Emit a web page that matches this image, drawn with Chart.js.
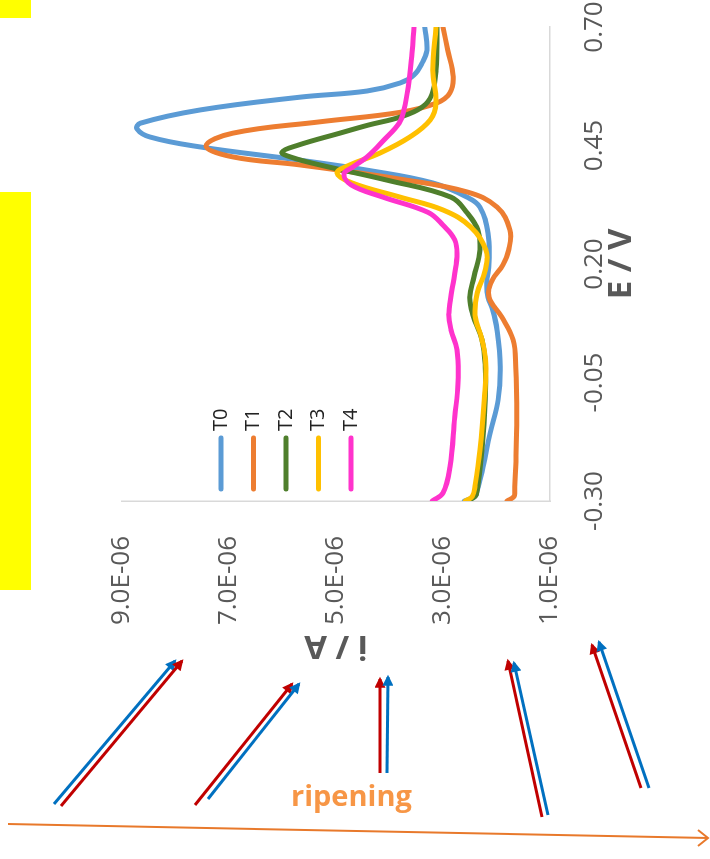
<!DOCTYPE html>
<html>
<head>
<meta charset="utf-8">
<script src="https://cdn.jsdelivr.net/npm/chart.js@4"></script>
<style>
  html, body { margin: 0; padding: 0; background: #fff; }
  #page { position: relative; width: 710px; height: 859px; overflow: hidden; background: #fff; }
  /* the voltammogram is drawn upright, then turned a quarter turn counter-clockwise */
  #plot { position: absolute; left: 0; top: 0; width: 859px; height: 710px;
          transform-origin: 0 0; transform: translate(0px, 859px) rotate(-90deg); }
  #marks { position: absolute; left: 0; top: 0; pointer-events: none; }
</style>
</head>
<body>
<div id="page">
  <div id="plot"><canvas id="cv" width="859" height="710"></canvas></div>
  <svg id="marks" width="710" height="859" xmlns="http://www.w3.org/2000/svg">
    <defs>
      <marker id="headRed" viewBox="0 0 10 10" refX="8" refY="5" markerWidth="13" markerHeight="11"
              markerUnits="userSpaceOnUse" orient="auto"><path d="M0,0 L10,5 L0,10 z" fill="#C00000"/></marker>
      <marker id="headBlue" viewBox="0 0 10 10" refX="8" refY="5" markerWidth="13" markerHeight="11"
              markerUnits="userSpaceOnUse" orient="auto"><path d="M0,0 L10,5 L0,10 z" fill="#0070C0"/></marker>
    </defs>
    <rect x="0" y="0" width="31" height="18" fill="#FFFF00"/>
    <rect x="0" y="192" width="31" height="398" fill="#FFFF00"/>
    <g fill="none" stroke-width="3">
      <line x1="54" y1="804" x2="175" y2="661" stroke="#0070C0" marker-end="url(#headBlue)"/>
      <line x1="61" y1="806" x2="182" y2="661" stroke="#C00000" marker-end="url(#headRed)"/>
      <line x1="195" y1="805" x2="292" y2="684" stroke="#C00000" marker-end="url(#headRed)"/>
      <line x1="208" y1="799" x2="299" y2="684" stroke="#0070C0" marker-end="url(#headBlue)"/>
      <line x1="380" y1="773" x2="380" y2="679" stroke="#C00000" marker-end="url(#headRed)"/>
      <line x1="387" y1="773" x2="388" y2="677" stroke="#0070C0" marker-end="url(#headBlue)"/>
      <line x1="542" y1="817" x2="508" y2="661" stroke="#C00000" marker-end="url(#headRed)"/>
      <line x1="548" y1="815" x2="514" y2="663" stroke="#0070C0" marker-end="url(#headBlue)"/>
      <line x1="641" y1="788" x2="592" y2="645" stroke="#C00000" marker-end="url(#headRed)"/>
      <line x1="649" y1="788" x2="599" y2="642" stroke="#0070C0" marker-end="url(#headBlue)"/>
    </g>
    <line x1="8" y1="824" x2="708" y2="838" stroke="#E8792B" stroke-width="2"/>
    <polyline points="698,830 708,838 698,846" fill="none" stroke="#E8792B" stroke-width="2"/>
    <text x="291" y="806" font-family="Open Sans" font-weight="bold" font-size="29" fill="#F79646">ripening</text>
  </svg>
</div>
<script>
// Differential pulse voltammograms, current (A) against potential (V)
const seriesNames = ['T0', 'T1', 'T2', 'T3', 'T4'];
const seriesColors = ['#5B9BD5', '#ED7D31', '#4F7F2C', '#FFC000', '#FF33CC'];

const potentialTicks = [-0.30, -0.05, 0.20, 0.45, 0.70];
const currentTicks = [1.0e-6, 3.0e-6, 5.0e-6, 7.0e-6, 9.0e-6];

const potentialT0 = [-0.300, -0.290, -0.277, -0.228, -0.157, -0.087, -0.017, 0.061, 0.103, 0.130, 0.160, 0.202, 0.265, 0.320, 0.341, 0.371, 0.398, 0.419, 0.447, 0.468, 0.485, 0.497, 0.525, 0.552, 0.565, 0.582, 0.599, 0.624, 0.651, 0.700];
const currentT0 = [2.60e-6, 2.40e-6, 2.36e-6, 2.25e-6, 2.12e-6, 1.97e-6, 1.93e-6, 1.99e-6, 2.07e-6, 2.16e-6, 2.18e-6, 2.14e-6, 2.16e-6, 2.31e-6, 2.55e-6, 3.19e-6, 4.42e-6, 5.67e-6, 7.54e-6, 8.48e-6, 8.72e-6, 8.66e-6, 7.54e-6, 5.67e-6, 4.42e-6, 3.80e-6, 3.54e-6, 3.39e-6, 3.30e-6, 3.34e-6];

const potentialT1 = [-0.300, -0.290, -0.277, -0.228, -0.123, -0.017, 0.040, 0.088, 0.130, 0.166, 0.198, 0.230, 0.272, 0.320, 0.352, 0.379, 0.409, 0.426, 0.449, 0.476, 0.500, 0.520, 0.540, 0.561, 0.595, 0.651, 0.700];
const currentT1 = [1.80e-6, 1.67e-6, 1.66e-6, 1.64e-6, 1.62e-6, 1.64e-6, 1.69e-6, 1.90e-6, 2.14e-6, 2.08e-6, 1.88e-6, 1.77e-6, 1.75e-6, 1.99e-6, 2.55e-6, 3.80e-6, 5.67e-6, 6.93e-6, 7.43e-6, 6.93e-6, 5.30e-6, 3.80e-6, 3.11e-6, 2.87e-6, 2.81e-6, 2.91e-6, 3.00e-6];

const potentialT2 = [-0.300, -0.290, -0.277, -0.192, -0.087, -0.017, 0.040, 0.092, 0.130, 0.173, 0.230, 0.272, 0.308, 0.341, 0.377, 0.409, 0.424, 0.436, 0.451, 0.476, 0.493, 0.510, 0.531, 0.557, 0.609, 0.700];
const currentT2 = [2.55e-6, 2.40e-6, 2.36e-6, 2.27e-6, 2.21e-6, 2.21e-6, 2.27e-6, 2.44e-6, 2.50e-6, 2.42e-6, 2.31e-6, 2.35e-6, 2.55e-6, 2.85e-6, 4.05e-6, 5.30e-6, 5.80e-6, 6.01e-6, 5.70e-6, 4.93e-6, 4.40e-6, 3.80e-6, 3.39e-6, 3.21e-6, 3.13e-6, 3.11e-6];

const potentialT3 = [-0.300, -0.290, -0.266, -0.192, -0.087, -0.009, 0.040, 0.092, 0.139, 0.187, 0.230, 0.278, 0.314, 0.341, 0.371, 0.392, 0.409, 0.434, 0.468, 0.504, 0.540, 0.609, 0.700];
const currentT3 = [2.58e-6, 2.45e-6, 2.40e-6, 2.31e-6, 2.23e-6, 2.20e-6, 2.27e-6, 2.40e-6, 2.36e-6, 2.21e-6, 2.20e-6, 2.48e-6, 3.00e-6, 3.80e-6, 4.70e-6, 4.98e-6, 4.74e-6, 4.18e-6, 3.62e-6, 3.24e-6, 3.13e-6, 3.19e-6, 3.13e-6];

const potentialT4 = [-0.300, -0.283, -0.228, -0.123, -0.051, 0.019, 0.061, 0.097, 0.160, 0.215, 0.251, 0.282, 0.309, 0.341, 0.367, 0.390, 0.405, 0.426, 0.462, 0.497, 0.525, 0.573, 0.645, 0.700];
const currentT4 = [3.20e-6, 3.00e-6, 2.87e-6, 2.78e-6, 2.72e-6, 2.74e-6, 2.85e-6, 2.89e-6, 2.81e-6, 2.74e-6, 2.78e-6, 3.00e-6, 3.28e-6, 4.12e-6, 4.72e-6, 4.85e-6, 4.68e-6, 4.42e-6, 4.10e-6, 3.82e-6, 3.73e-6, 3.65e-6, 3.58e-6, 3.54e-6];

const potentials = [potentialT0, potentialT1, potentialT2, potentialT3, potentialT4];
const currents = [currentT0, currentT1, currentT2, currentT3, currentT4];

function sciLabel(v) {
  const [m, e] = v.toExponential(1).split('e');
  const n = Number(e);
  return m + 'E' + (n < 0 ? '-' : '+') + String(Math.abs(n)).padStart(2, '0');
}

const tickFont = { family: 'Open Sans', size: 26 };
const titleFont = { family: 'Open Sans', size: 33, weight: 'bold' };
const axisGrey = '#595959';

// legend drawn inside the plot area, one short line + name per curve
const innerLegend = {
  id: 'innerLegend',
  afterDatasetsDraw(chart) {
    const { ctx, chartArea } = chart;
    ctx.save();
    chart.data.datasets.forEach((ds, k) => {
      const y = chartArea.top + 99 + 32.5 * k;
      const x0 = chartArea.left + 12, x1 = chartArea.left + 63;
      ctx.strokeStyle = ds.borderColor;
      ctx.lineWidth = 5;
      ctx.lineCap = 'round';
      ctx.beginPath(); ctx.moveTo(x0, y); ctx.lineTo(x1, y); ctx.stroke();
      ctx.fillStyle = '#222';
      ctx.font = '20px "Open Sans"';
      ctx.textBaseline = 'middle';
      ctx.textAlign = 'left';
      ctx.fillText(ds.label, x1 + 7, y);
    });
    ctx.restore();
  }
};

new Chart(document.getElementById('cv'), {
  type: 'line',
  data: {
    datasets: seriesNames.map((name, k) => ({
      label: name,
      data: potentials[k].map((e, j) => ({ x: e, y: currents[k][j] })),
      borderColor: seriesColors[k],
      backgroundColor: seriesColors[k],
      borderWidth: 5,
      borderCapStyle: 'round',
      borderJoinStyle: 'round',
      pointRadius: 0,
      tension: 0.4,
      fill: false,
      order: seriesNames.length - k
    }))
  },
  options: {
    responsive: false,
    animation: false,
    devicePixelRatio: 1,
    layout: { padding: { left: 0, right: 27, top: 122, bottom: 0 } },
    plugins: { legend: { display: false }, tooltip: { enabled: false } },
    scales: {
      x: {
        type: 'linear', position: 'bottom', min: -0.3, max: 0.7,
        grid: { display: false },
        border: { display: true, color: '#D9D9D9', width: 1.5 },
        afterBuildTicks: s => { s.ticks = potentialTicks.map(v => ({ value: v })); },
        ticks: { padding: 21, font: tickFont, color: axisGrey, maxRotation: 0, minRotation: 0, autoSkip: false,
                 callback: v => Number(v).toFixed(2) },
        title: { display: true, text: 'E / V', font: titleFont, color: axisGrey, padding: { top: 0, bottom: 69 } },
        afterFit: s => { s.height = 160; s.paddingLeft = 0; s.paddingRight = 0; }
      },
      y: {
        type: 'linear', position: 'left', min: 1e-6, max: 9e-6,
        grid: { display: false },
        border: { display: true, color: '#D9D9D9', width: 1.5 },
        afterBuildTicks: s => { s.ticks = currentTicks.map(v => ({ value: v })); },
        ticks: { padding: 27, font: tickFont, color: axisGrey, autoSkip: false, callback: v => sciLabel(v) },
        title: { display: true, text: 'i / A', font: titleFont, color: axisGrey, padding: { top: 194, bottom: 0 } },
        afterFit: s => { s.width = 358; s.paddingTop = 0; s.paddingBottom = 0; }
      }
    }
  },
  plugins: [innerLegend]
});
</script>
</body>
</html>
